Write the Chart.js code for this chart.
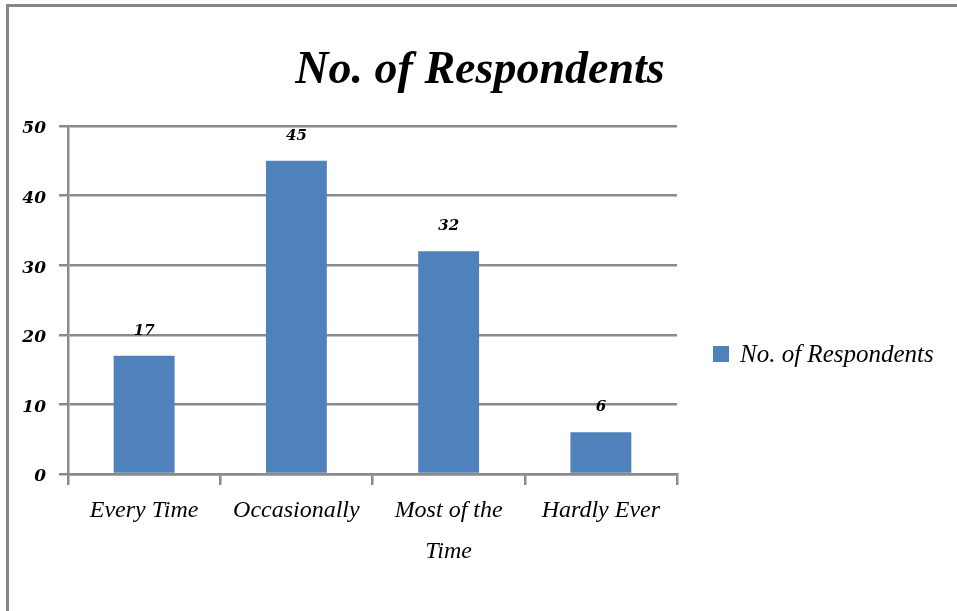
<!DOCTYPE html>
<html>
<head>
<meta charset="utf-8">
<script src="https://cdn.jsdelivr.net/npm/chart.js@4.4.1/dist/chart.umd.min.js"></script>
<style>
  html,body{margin:0;padding:0;background:#fff;overflow:hidden;}
  #wrap{position:relative;width:957px;height:611px;}
  #frame{position:absolute;left:6px;top:4px;width:1000px;height:700px;border-top:3px solid #878787;border-left:3px solid #878787;box-sizing:border-box;}
  canvas{position:absolute;left:0;top:0;}
</style>
</head>
<body>
<div id="wrap">
  <div id="frame"></div>
  <canvas id="c" width="957" height="611"></canvas>
</div>
<script>
const categories = ['Every Time', 'Occasionally', ['Most of the', 'Time'], 'Hardly Ever'];
const seriesName = 'No. of Respondents';
const values = [17, 45, 32, 6];
const chartTitle = 'No. of Respondents';
const yTicks = [0, 10, 20, 30, 40, 50];

const scriptFont = '"Liberation Serif", "DejaVu Serif", serif';
const numFont = '"DejaVu Serif", serif';
const barColor = '#4f81bd';
const gridColor = '#8a8a8a';

const extras = {
  id: 'extras',
  afterDatasetsDraw(chart) {
    const ctx = chart.ctx;
    const meta = chart.getDatasetMeta(0);
    ctx.save();
    ctx.fillStyle = '#000';
    ctx.font = 'italic bold 15px ' + numFont;
    ctx.textAlign = 'center';
    ctx.textBaseline = 'middle';
    meta.data.forEach((bar, i) => {
      ctx.fillText(String(chart.data.datasets[0].data[i]), bar.x, bar.y - 25);
    });
    // title
    ctx.font = 'italic bold 46px ' + scriptFont;
    ctx.textAlign = 'center';
    ctx.fillText(chartTitle, 480, 71);
    // legend
    const lx = chart.chartArea.right + 36;
    const ly = 354;
    ctx.fillStyle = barColor;
    ctx.fillRect(lx, ly - 8, 16, 16);
    ctx.fillStyle = '#000';
    ctx.font = 'italic 25px ' + scriptFont;
    ctx.textAlign = 'left';
    ctx.fillText(chart.data.datasets[0].label, lx + 27, ly + 1);
    ctx.restore();
  }
};

new Chart(document.getElementById('c'), {
  type: 'bar',
  data: {
    labels: categories,
    datasets: [{
      label: seriesName,
      data: values,
      backgroundColor: barColor,
      borderWidth: 0,
      categoryPercentage: 1.0,
      barPercentage: 0.4
    }]
  },
  options: {
    responsive: false,
    animation: false,
    devicePixelRatio: 1,
    layout: { padding: { left: 0, right: 280, top: 126, bottom: 0 } },
    plugins: { legend: { display: false }, title: { display: false }, tooltip: { enabled: false } },
    scales: {
      y: {
        min: 0, max: 50,
        afterBuildTicks(scale) { scale.ticks = yTicks.map(v => ({ value: v })); },
        afterFit(scale) { scale.width = 68; },
        grid: { color: gridColor, lineWidth: 2.5, tickLength: 9, drawTicks: true },
        border: { display: true, color: gridColor, width: 2.5 },
        ticks: { color: '#000', padding: 13, labelOffset: 3, font: { family: numFont, size: 17, style: 'italic', weight: 'bold' } }
      },
      x: {
        afterFit(scale) { scale.height = 137; },
        grid: { offset: true, drawOnChartArea: false, drawTicks: true, tickLength: 11, color: gridColor, lineWidth: 2.5 },
        border: { display: true, color: gridColor, width: 2.5 },
        ticks: { color: '#000', padding: 5, font: { family: scriptFont, size: 24, style: 'italic', lineHeight: 1.7 } }
      }
    }
  },
  plugins: [extras]
});
</script>
</body>
</html>
